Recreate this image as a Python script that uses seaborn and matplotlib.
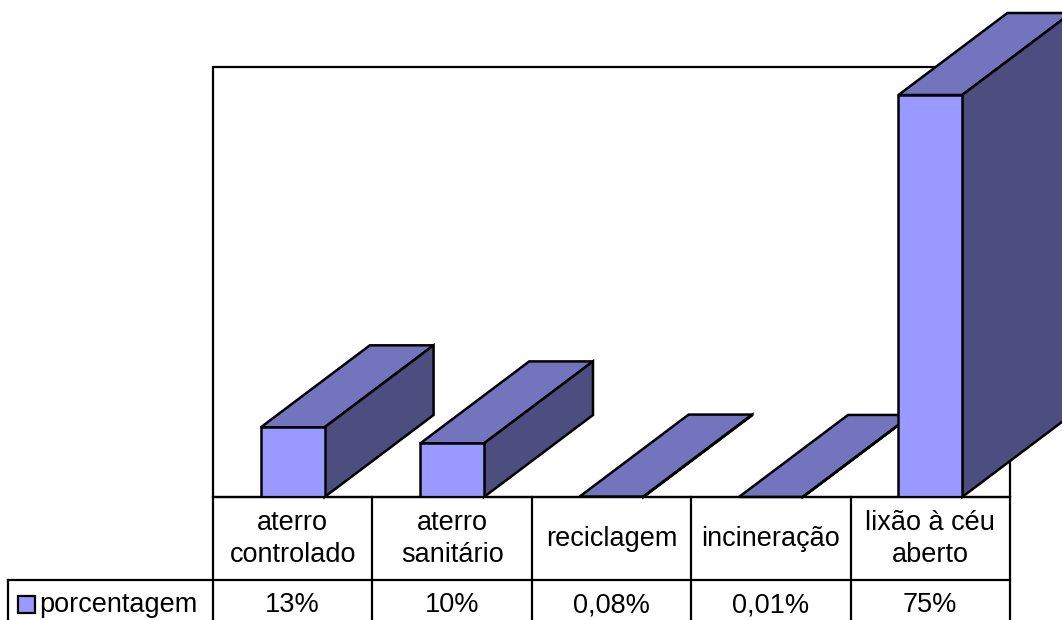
import matplotlib
matplotlib.use("Agg")
import matplotlib.pyplot as plt
import seaborn as sns
import pandas as pd
from matplotlib.patches import Polygon, Rectangle
from matplotlib.lines import Line2D

categories = ["aterro\ncontrolado", "aterro\nsanitário", "reciclagem", "incineração", "lixão à céu\naberto"]
values = [13, 10, 0.08, 0.01, 75]
value_labels = ["13%", "10%", "0,08%", "0,01%", "75%"]
series_name = "porcentagem"

FRONT = "#9999FF"
TOP = "#7474BE"
SIDE = "#4D4D7F"

W, H = 1062, 620
sns.set_theme(style="white")
plt.rcParams['font.family'] = ['Liberation Sans', 'DejaVu Sans']

fig = plt.figure(figsize=(W / 100, H / 100), dpi=100)

def fx(x):
    return x / W

def fy(y):
    return 1 - y / H

# plot area in pixels
L, R, T, B = 213, 1010, 67, 497
ax = fig.add_axes([fx(L), fy(B), fx(R) - fx(L), fy(T) - fy(B)])
ax.set_facecolor("none")

blw = 1.8
df = pd.DataFrame({"cat": categories, "val": values})
sns.barplot(data=df, x="cat", y="val", color=FRONT, width=0.4, saturation=1,
            edgecolor="black", linewidth=blw, ax=ax, zorder=3)

ax.set_xlim(-0.5, 4.5)
ymax = 75 * (B - T) / (B - 95)
ax.set_ylim(0, ymax)
for s in ax.spines.values():
    s.set_visible(False)
ax.set_xticks([])
ax.set_yticks([])
ax.set_xlabel("")
ax.set_ylabel("")

# plot frame behind bars
ax.add_patch(Rectangle((-0.5, 0), 5, ymax, fill=False, edgecolor="black",
                       linewidth=1.6, zorder=0.5, clip_on=False))

# depth offsets (pixels -> data units)
px_per_x = (R - L) / 5.0
px_per_y = (B - T) / ymax
dx = 109 / px_per_x
dy = 82 / px_per_y

z = 3
for p in list(ax.patches):
    if not isinstance(p, Rectangle) or p.get_facecolor()[3] == 0:
        continue
    if p.get_width() > 1:
        continue
    x0 = p.get_x()
    w = p.get_width()
    h = p.get_height()
    p.set_zorder(z + 0.2)
    top = Polygon([(x0, h), (x0 + dx, h + dy), (x0 + w + dx, h + dy), (x0 + w, h)],
                  closed=True, facecolor=TOP, edgecolor="black", linewidth=blw,
                  joinstyle="miter", zorder=z, clip_on=False)
    side = Polygon([(x0 + w, 0), (x0 + w + dx, dy), (x0 + w + dx, h + dy), (x0 + w, h)],
                   closed=True, facecolor=SIDE, edgecolor="black", linewidth=blw,
                   joinstyle="miter", zorder=z + 0.1, clip_on=False)
    ax.add_patch(top)
    ax.add_patch(side)
    z += 1

# data table
lw = 1.6
cols = [L + i * (R - L) / 5.0 for i in range(6)]
row_mid, row_bot = 580, 640
def hline(x1, x2, y):
    fig.add_artist(Line2D([fx(x1), fx(x2)], [fy(y), fy(y)], color="black", lw=lw,
                          zorder=20, solid_capstyle="projecting"))

def vline(x, y1, y2):
    fig.add_artist(Line2D([fx(x), fx(x)], [fy(y1), fy(y2)], color="black", lw=lw,
                          zorder=20, solid_capstyle="projecting"))

hline(L, R, B)
hline(8, R, row_mid)
for c in cols:
    vline(c, B, row_bot)
vline(8, row_mid, row_bot)

fs = 19.5
for i, (cat, lab) in enumerate(zip(categories, value_labels)):
    cx = (cols[i] + cols[i + 1]) / 2
    fig.text(fx(cx), fy(539), cat, ha="center", va="center", fontsize=fs,
             multialignment="center", linespacing=1.32, color="black")
    fig.text(fx(cx), fy(605), lab, ha="center", va="center", fontsize=fs, color="black")

# legend key
fig.add_artist(Rectangle((fx(18), fy(613)), fx(17), fy(596) - fy(613), facecolor=FRONT,
                         edgecolor="black", linewidth=1.6, transform=fig.transFigure, zorder=21))
fig.text(fx(39), fy(605), series_name, ha="left", va="center", fontsize=fs, color="black")

fig.savefig("out.png", dpi=100)
